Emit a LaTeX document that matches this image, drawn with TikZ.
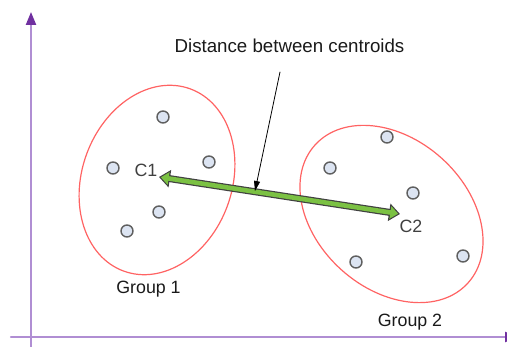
\documentclass[tikz,border=0pt]{standalone}
\usepackage{fontspec}
\setmainfont{Liberation Sans}
\usepackage{tkz-euclide}
\usetikzlibrary{arrows.meta}

\definecolor{coulaxe}{HTML}{B08ED3}
\definecolor{coulpointe}{HTML}{7030A0}
\definecolor{coulgroupe}{HTML}{FF6363}
\definecolor{vert}{HTML}{7BC143}
\definecolor{ptfond}{HTML}{DCE4F2}
\definecolor{ptbord}{HTML}{5F5F5F}
\definecolor{gris}{HTML}{404040}

\begin{document}
\begin{tikzpicture}[x=1pt,y=1pt,
  pt/.style={circle,draw=ptbord,fill=ptfond,line width=1.4pt,minimum size=12pt,inner sep=0pt},
  lbl/.style={font=\fontsize{17.8}{20}\selectfont,text=black!90,inner sep=0pt},
  axe/.style={coulaxe,line width=2.2pt,-{Triangle[length=13pt,width=10pt,color=coulpointe]}},
  groupe/.style={coulgroupe,line width=1.2pt}]

\useasboundingbox (0,0) rectangle (507,347);

% =========================
% AXES
% =========================

\tkzDefPoint(31,-2){Ybas}
\tkzDefPoint(31,335){Yhaut}
\tkzDefPoint(11,10){Xgauche}
\tkzDefPoint(518,10){Xdroite}

\tkzDrawSegment[axe](Ybas,Yhaut)
\tkzDrawSegment[axe](Xgauche,Xdroite)

% =========================
% GROUPES
% =========================

\tkzDefPoint(157,167){G1}
\tkzDefPoint(391.5,133){G2}

\draw[groupe,rotate around={-20:(G1)}] (G1) ellipse (75 and 97);
\draw[groupe,rotate around={-42:(G2)}] (G2) ellipse (103 and 75);

% =========================
% POINTS
% =========================

\foreach \x/\y [count=\i] in {163/230,113/179,209/185,159/135,127/116}
  \node[pt] (a\i) at (\x,\y) {};
\foreach \x/\y [count=\i] in {387/210,330/179,413/154,356/85,463/91}
  \node[pt] (b\i) at (\x,\y) {};

% =========================
% CENTROIDES
% =========================

\tkzDefPoint(159,170){C1}
\tkzDefPoint(400,133){C2}

\node[lbl,text=gris] (lC1) at (146,177) {C1};
\node[lbl,text=gris] (lC2) at (411,121) {C2};

% C1 <-> C2
\draw[line width=7pt,black!75,
  {Triangle[length=11pt,width=17pt]}-{Triangle[length=11pt,width=17pt]}] (C1) -- (C2);
\draw[line width=4.6pt,vert,shorten <=1.9pt,shorten >=1.9pt,
  {Triangle[length=7.8pt,width=12.2pt]}-{Triangle[length=7.8pt,width=12.2pt]}] (C1) -- (C2);

% =========================
% LABELS
% =========================

\node[lbl,font=\fontsize{18.7}{22}\selectfont] (titre) at (289.5,301) {Distance between centroids};
\node[lbl] (grp1) at (148.5,58) {Group 1};
\node[lbl] (grp2) at (410,25) {Group 2};

\tkzDefPoint(280,275){D1}
\tkzDefPoint(255,156){D2}
\tkzDrawSegment[-{Triangle[length=10pt,width=6pt]},line width=0.8pt,black](D1,D2)

\end{tikzpicture}
\end{document}
